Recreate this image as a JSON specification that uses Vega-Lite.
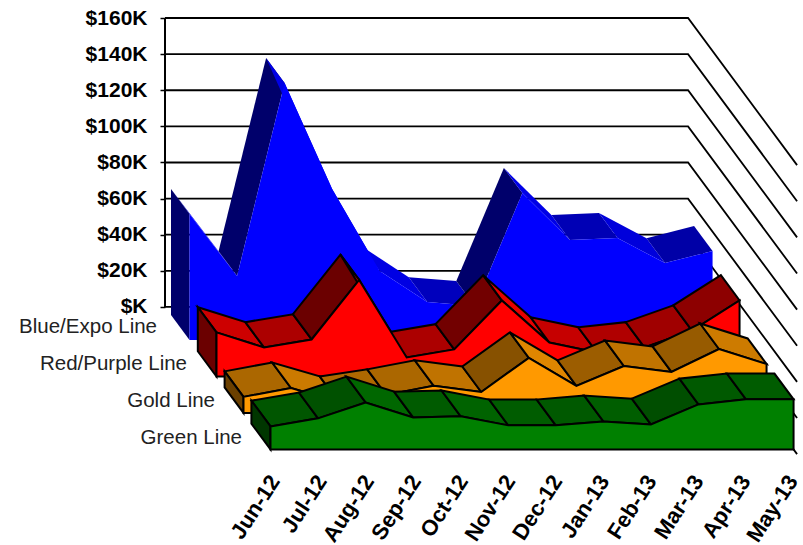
{"$schema":"https://vega.github.io/schema/vega-lite/v6.json","width":632,"height":432,"autosize":"none","padding":{"left":165,"right":6,"top":18,"bottom":95},"background":"white","config":{"view":{"stroke":null},"line":{"interpolate":"linear-closed","stroke":"black","strokeWidth":2,"strokeJoin":"miter"}},
"layer":[
{"data":{"values":[{"v":0},{"v":20000},{"v":40000},{"v":60000},{"v":80000},{"v":100000},{"v":120000},{"v":140000},{"v":160000}]},
"transform":[{"calculate":"[{o:0,m:0,d:0},{o:1,m:11,d:0},{o:2,m:11,d:109}]","as":"p"},{"flatten":["p"]},{"calculate":"datum.p.m+datum.p.d/47.55","as":"X"},{"calculate":"datum.v-datum.p.d*747.5","as":"Y"},{"calculate":"datum.p.o","as":"o"}],
"mark":{"type":"line","interpolate":"linear","stroke":"black","strokeWidth":1.8},
"encoding":{"x":{"field":"X","type":"quantitative","scale":{"domain":[0,13.291],"nice":false,"zero":false},"axis":null},
"y":{"field":"Y","type":"quantitative","scale":{"domain":[-79200,160000],"nice":false,"zero":false},"axis":{"title":null,"domain":false,"grid":false,"values":[0,20000,40000,60000,80000,100000,120000,140000,160000],"labelExpr":"datum.value==0?'$K':'$'+datum.value/1000+'K'","labelFont":"Liberation Sans","labelFontWeight":"bold","labelFontSize":21,"labelColor":"black","labelPadding":13,"tickSize":5,"tickWidth":1.5,"tickColor":"black"}},
"detail":{"field":"v","type":"nominal"},"order":{"field":"o","type":"quantitative"}}},
{"data":{"values":[{"a":0,"b":160000,"c":0}]},"mark":{"type":"rule","stroke":"black","strokeWidth":2},"encoding":{"x":{"field":"c","type":"quantitative","axis":null},"y":{"field":"a","type":"quantitative","axis":{"title":null}},"y2":{"field":"b"}}},
{"data":{"values":[
{"series":"Blue/Expo Line","month":"Jun-12","i":0,"value":69800},{"series":"Blue/Expo Line","month":"Jul-12","i":1,"value":35400},{"series":"Blue/Expo Line","month":"Aug-12","i":2,"value":142300},{"series":"Blue/Expo Line","month":"Sep-12","i":3,"value":83600},{"series":"Blue/Expo Line","month":"Oct-12","i":4,"value":38200},{"series":"Blue/Expo Line","month":"Nov-12","i":5,"value":21000},{"series":"Blue/Expo Line","month":"Dec-12","i":6,"value":18800},{"series":"Blue/Expo Line","month":"Jan-13","i":7,"value":81400},{"series":"Blue/Expo Line","month":"Feb-13","i":8,"value":55400},{"series":"Blue/Expo Line","month":"Mar-13","i":9,"value":56500},{"series":"Blue/Expo Line","month":"Apr-13","i":10,"value":42600},{"series":"Blue/Expo Line","month":"May-13","i":11,"value":49300},
{"series":"Red/Purple Line","month":"Jun-12","i":0,"value":24400},{"series":"Red/Purple Line","month":"Jul-12","i":1,"value":16100},{"series":"Red/Purple Line","month":"Aug-12","i":2,"value":20500},{"series":"Red/Purple Line","month":"Sep-12","i":3,"value":53500},{"series":"Red/Purple Line","month":"Oct-12","i":4,"value":10500},{"series":"Red/Purple Line","month":"Nov-12","i":5,"value":15000},{"series":"Red/Purple Line","month":"Dec-12","i":6,"value":42100},{"series":"Red/Purple Line","month":"Jan-13","i":7,"value":18800},{"series":"Red/Purple Line","month":"Feb-13","i":8,"value":13300},{"series":"Red/Purple Line","month":"Mar-13","i":9,"value":16100},{"series":"Red/Purple Line","month":"Apr-13","i":10,"value":25400},{"series":"Red/Purple Line","month":"May-13","i":11,"value":42100},
{"series":"Gold Line","month":"Jun-12","i":0,"value":8900},{"series":"Gold Line","month":"Jul-12","i":1,"value":13800},{"series":"Gold Line","month":"Aug-12","i":2,"value":6100},{"series":"Gold Line","month":"Sep-12","i":3,"value":10000},{"series":"Gold Line","month":"Oct-12","i":4,"value":15000},{"series":"Gold Line","month":"Nov-12","i":5,"value":11600},{"series":"Gold Line","month":"Dec-12","i":6,"value":30500},{"series":"Gold Line","month":"Jan-13","i":7,"value":15000},{"series":"Gold Line","month":"Feb-13","i":8,"value":26000},{"series":"Gold Line","month":"Mar-13","i":9,"value":22700},{"series":"Gold Line","month":"Apr-13","i":10,"value":35400},{"series":"Gold Line","month":"May-13","i":11,"value":27100},
{"series":"Green Line","month":"Jun-12","i":0,"value":12700},{"series":"Green Line","month":"Jul-12","i":1,"value":17200},{"series":"Green Line","month":"Aug-12","i":2,"value":26000},{"series":"Green Line","month":"Sep-12","i":3,"value":17700},{"series":"Green Line","month":"Oct-12","i":4,"value":18300},{"series":"Green Line","month":"Nov-12","i":5,"value":13300},{"series":"Green Line","month":"Dec-12","i":6,"value":13300},{"series":"Green Line","month":"Jan-13","i":7,"value":15500},{"series":"Green Line","month":"Feb-13","i":8,"value":13800},{"series":"Green Line","month":"Mar-13","i":9,"value":24900},{"series":"Green Line","month":"Apr-13","i":10,"value":27700},{"series":"Green Line","month":"May-13","i":11,"value":27700}]},
"transform":[
{"window":[{"op":"lead","field":"value","as":"next"}],"groupby":["series"],"sort":[{"field":"i"}]},
{"calculate":"indexof(['Blue/Expo Line','Red/Purple Line','Gold Line','Green Line'],datum.series)","as":"s"},
{"calculate":"6+26.8*datum.s","as":"dB"},{"calculate":"24.5+27*datum.s","as":"dF"},
{"calculate":"[{g:'f',n:0,m:datum.i,v:datum.value,d:datum.dF},{g:'f',n:1,m:datum.i+1,v:datum.next,d:datum.dF},{g:'f',n:2,m:datum.i+1,v:datum.next,d:datum.dB},{g:'f',n:3,m:datum.i,v:datum.value,d:datum.dB},{g:'s',n:0,m:0,v:0,d:datum.dB},{g:'s',n:1,m:0,v:datum.value,d:datum.dB},{g:'s',n:2,m:0,v:datum.value,d:datum.dF},{g:'s',n:3,m:0,v:0,d:datum.dF},{g:'a',n:datum.i,m:datum.i,v:datum.value,d:datum.dF},{g:'a',n:12,m:11,v:0,d:datum.dF},{g:'a',n:13,m:0,v:0,d:datum.dF}]","as":"p"},
{"flatten":["p"]},
{"filter":"datum.p.g=='f'?datum.next!=null:datum.p.g=='s'?datum.i==0:(datum.p.n<12||datum.i==11)"},
{"calculate":"datum.p.m+datum.p.d/47.55","as":"X"},{"calculate":"datum.p.v-datum.p.d*747.5","as":"Y"},{"calculate":"datum.p.n","as":"n"},
{"calculate":"datum.p.g=='f'?'f'+datum.i:datum.p.g","as":"pid"},
{"calculate":"datum.s*2+(datum.p.g=='a'?1:0)","as":"k"},
{"calculate":"datum.p.g=='a'?1:datum.p.g=='s'?0.42:clamp(0.72-(datum.next-datum.value)/100000,0.42,0.9)","as":"f"},
{"calculate":"'rgb('+round([0,255,255,0][datum.s]*datum.f)+','+round([0,0,153,128][datum.s]*datum.f)+','+round([255,0,0,0][datum.s]*datum.f)+')'","as":"col"}],
"encoding":{"x":{"field":"X","type":"quantitative","axis":null},"y":{"field":"Y","type":"quantitative","axis":{"title":null}},"detail":{"field":"pid","type":"nominal"},"order":{"field":"n","type":"quantitative"},"fill":{"field":"col","type":"nominal","scale":null,"legend":null}},
"layer":[
{"transform":[{"filter":"datum.k==0"}],"mark":{"type":"line","strokeWidth":0}},
{"transform":[{"filter":"datum.k==1"}],"mark":{"type":"line","strokeWidth":0}},
{"transform":[{"filter":"datum.k==2"}],"mark":"line"},
{"transform":[{"filter":"datum.k==3"}],"mark":"line"},
{"transform":[{"filter":"datum.k==4"}],"mark":"line"},
{"transform":[{"filter":"datum.k==5"}],"mark":"line"},
{"transform":[{"filter":"datum.k==6"}],"mark":"line"},
{"transform":[{"filter":"datum.k==7"}],"mark":"line"}]},
{"data":{"values":[{"month":"Jun-12","i":0},{"month":"Jul-12","i":1},{"month":"Aug-12","i":2},{"month":"Sep-12","i":3},{"month":"Oct-12","i":4},{"month":"Nov-12","i":5},{"month":"Dec-12","i":6},{"month":"Jan-13","i":7},{"month":"Feb-13","i":8},{"month":"Mar-13","i":9},{"month":"Apr-13","i":10},{"month":"May-13","i":11}]},
"transform":[{"calculate":"datum.i*0.99+2.31","as":"X"},{"calculate":"-94400","as":"Y"}],
"mark":{"type":"text","angle":303,"align":"right","baseline":"middle","font":"Liberation Sans","fontWeight":"bold","fontSize":22,"fill":"black"},
"encoding":{"x":{"field":"X","type":"quantitative","axis":null},"y":{"field":"Y","type":"quantitative","axis":{"title":null}},"text":{"field":"month","type":"nominal"}}},
{"data":{"values":[{"label":"Blue/Expo Line","d":15},{"label":"Red/Purple Line","d":42},{"label":"Gold Line","d":70},{"label":"Green Line","d":97}]},
"transform":[{"calculate":"(datum.d-(datum.d<20?3:0))/47.55","as":"X"},{"calculate":"-datum.d*747.5","as":"Y"}],
"mark":{"type":"text","align":"right","baseline":"middle","font":"Liberation Sans","fontSize":20.5,"fill":"#222","dx":-20},
"encoding":{"x":{"field":"X","type":"quantitative","axis":null},"y":{"field":"Y","type":"quantitative","axis":{"title":null}},"text":{"field":"label","type":"nominal"}}}
]}
